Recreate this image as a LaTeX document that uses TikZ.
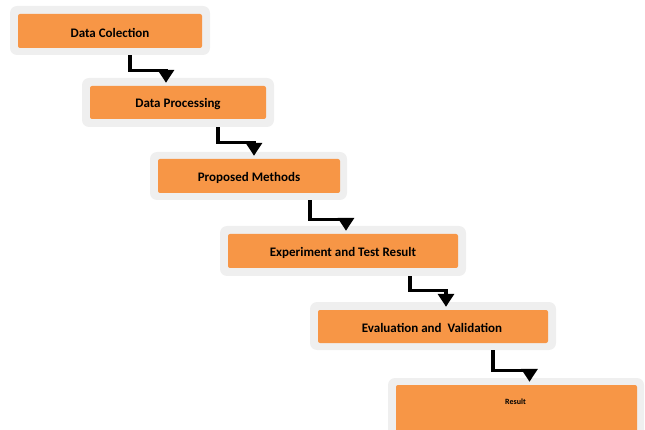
\documentclass[tikz,border=0pt]{standalone}
\usepackage{fontspec}
\setmainfont{Carlito}
\usetikzlibrary{arrows.meta}
\definecolor{boxorange}{HTML}{F79646}
\definecolor{halo}{HTML}{EFEFEF}
\tikzset{
  outerbox/.style={fill=halo, rounded corners=7pt, inner sep=0pt},
  innerbox/.style={fill=boxorange, rounded corners=2pt, inner sep=0pt},
  label/.style={font=\bfseries\fontsize{13}{15}\selectfont, inner sep=0pt},
  conn/.style={line width=3.2pt, -{Triangle[width=16pt,length=13pt]}, shorten >=3pt}
}
\begin{document}
\begin{tikzpicture}[x=1pt,y=-1pt]
\useasboundingbox (0,0) rectangle (645,430);
% boxes
\node[outerbox, minimum width=200pt, minimum height=49pt] (o1) at (110,30.5) {};
\node[innerbox, minimum width=184pt, minimum height=34pt] (i1) at (110,31) {};
\node[label] (t1) at (110,33) {Data Colection};
\node[outerbox, minimum width=192pt, minimum height=49pt] (o2) at (178,102.5) {};
\node[innerbox, minimum width=176pt, minimum height=33pt] (i2) at (178,102.5) {};
\node[label] (t2) at (178,104) {Data Processing};
\node[outerbox, minimum width=197pt, minimum height=48pt] (o3) at (248.5,176) {};
\node[innerbox, minimum width=182pt, minimum height=34pt] (i3) at (249,176) {};
\node[label] (t3) at (249,178) {Proposed Methods};
\node[outerbox, minimum width=246pt, minimum height=50pt] (o4) at (343,251) {};
\node[innerbox, minimum width=230pt, minimum height=34pt] (i4) at (343,251) {};
\node[label] (t4) at (343,253) {Experiment and Test Result};
\node[outerbox, minimum width=246pt, minimum height=48pt] (o5) at (433,326) {};
\node[innerbox, minimum width=230pt, minimum height=33pt] (i5) at (433,326.5) {};
\node[label] (t5) at (432,328) {Evaluation and\ \ Validation};
\node[outerbox, minimum width=256pt, minimum height=66pt] (o6) at (516,411) {};
\node[innerbox, minimum width=241pt, minimum height=52pt] (i6) at (516.5,411) {};
\node[font=\bfseries\fontsize{8}{9}\selectfont, inner sep=0pt] (t6) at (515.5,402) {Result};
% connectors
\draw[conn] ([xshift=20pt]o1.south) -- ++(0,15) -| ([xshift=-12pt]i2.north);
\draw[conn] ([xshift=40pt]o2.south) -- ++(0,15) -| ([xshift=5pt]i3.north);
\draw[conn] ([xshift=61.5pt]o3.south) -- ++(0,19) -| ([xshift=3pt]i4.north);
\draw[conn] ([xshift=67pt]o4.south) -- ++(0,14) -| ([xshift=13pt]i5.north);
\draw[conn] ([xshift=60pt]o5.south) -- ++(0,20) -| ([xshift=13pt]i6.north);
\end{tikzpicture}
\end{document}
